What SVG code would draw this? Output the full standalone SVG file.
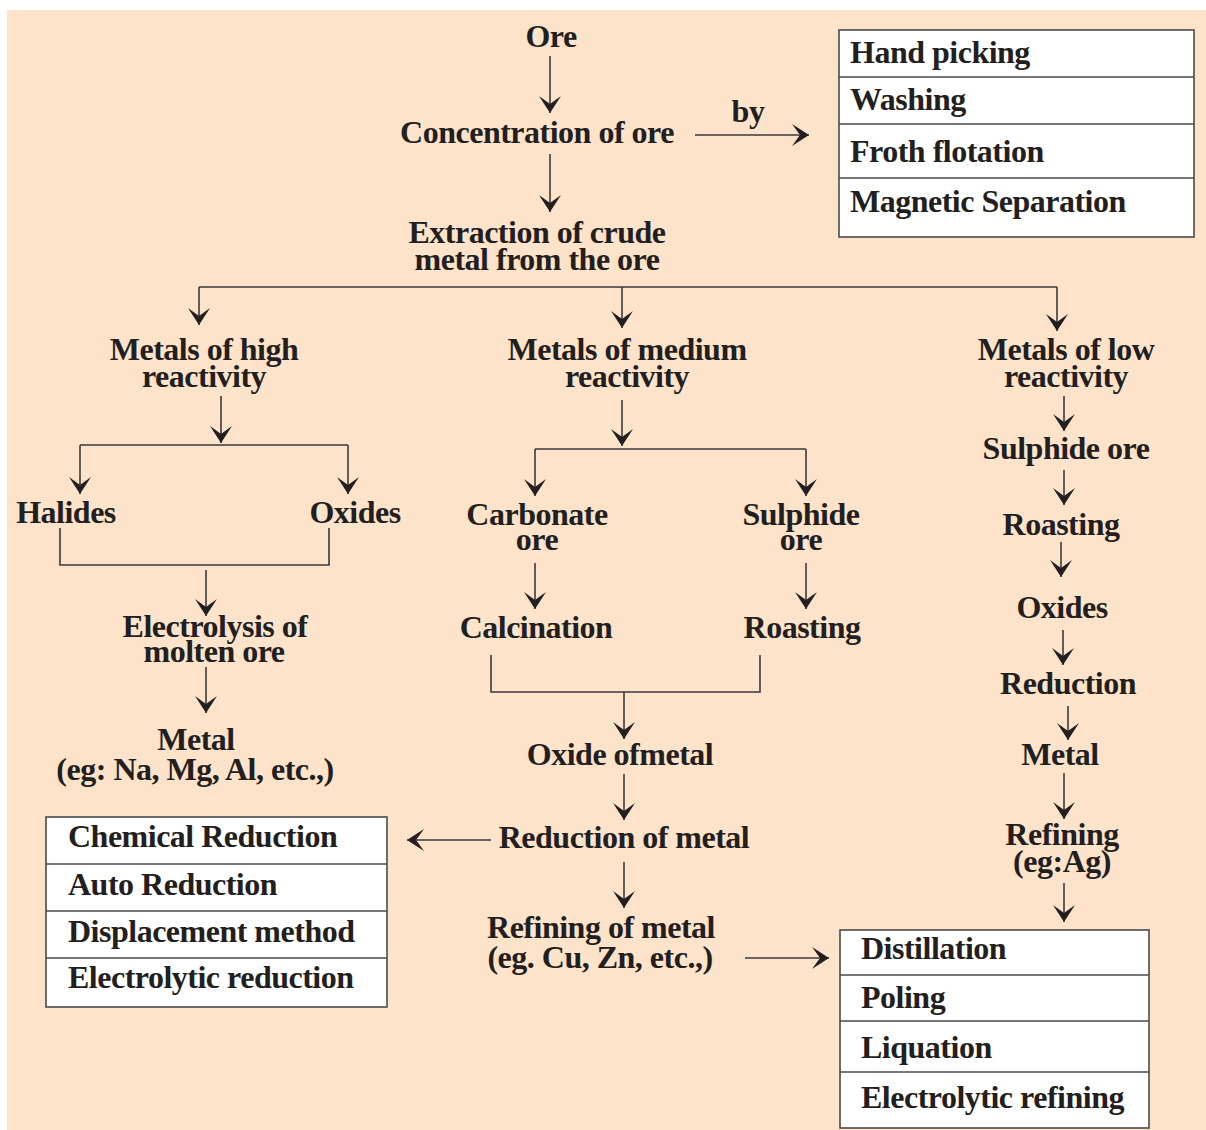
<svg xmlns="http://www.w3.org/2000/svg" width="1206" height="1130" viewBox="0 0 1206 1130">
<defs>
<style>
.t{font-family:"Liberation Serif","Times New Roman",serif;font-weight:bold;font-size:32px;fill:#231f20;letter-spacing:-0.5px}
.c{text-anchor:middle}
.ln{stroke:#3a3a3a;stroke-width:1.6;fill:none}
.ar{marker-end:url(#ah)}
.box{fill:#ffffff;stroke:#4a4a4a;stroke-width:1.6}
.div{stroke:#4a4a4a;stroke-width:1.6}
</style>
<marker id="ah" markerUnits="userSpaceOnUse" markerWidth="18" markerHeight="22" viewBox="0 0 18 22" refX="17" refY="11" orient="auto">
<path d="M17,11 L0,0 L8,11 L0,22 Z" fill="#231f20"/>
</marker>
</defs>
<rect x="0" y="0" width="1206" height="1130" fill="#ffffff"/>
<rect x="7" y="10" width="1199" height="1120" fill="#fde3c9"/>

<g id="connectors">
<line class="ln ar" x1="550" y1="56" x2="550" y2="113"/>
<line class="ln ar" x1="550" y1="154" x2="550" y2="212"/>
<line class="ln ar" x1="695" y1="135" x2="809" y2="135"/>
<polyline class="ln" points="199,287 1057,287"/>
<line class="ln ar" x1="199" y1="287" x2="199" y2="325"/>
<line class="ln ar" x1="622" y1="287" x2="622" y2="328"/>
<line class="ln ar" x1="1057" y1="287" x2="1057" y2="331"/>
<line class="ln ar" x1="221" y1="396" x2="221" y2="443"/>
<polyline class="ln" points="80,445 348,445"/>
<line class="ln ar" x1="80" y1="445" x2="80" y2="494"/>
<line class="ln ar" x1="348" y1="445" x2="348" y2="494"/>
<polyline class="ln" points="60,528 60,565 329,565 329,528"/>
<line class="ln ar" x1="206" y1="570" x2="206" y2="616"/>
<line class="ln ar" x1="206" y1="667" x2="206" y2="713"/>
<line class="ln ar" x1="622" y1="400" x2="622" y2="446"/>
<polyline class="ln" points="535,449 806,449"/>
<line class="ln ar" x1="535" y1="449" x2="535" y2="496"/>
<line class="ln ar" x1="806" y1="449" x2="806" y2="496"/>
<line class="ln ar" x1="535" y1="563" x2="535" y2="609"/>
<line class="ln ar" x1="806" y1="563" x2="806" y2="609"/>
<polyline class="ln" points="491,655 491,692 760,692 760,655"/>
<line class="ln ar" x1="624" y1="692" x2="624" y2="739"/>
<line class="ln ar" x1="624" y1="774" x2="624" y2="820"/>
<line class="ln ar" x1="491" y1="840" x2="407" y2="840"/>
<line class="ln ar" x1="624" y1="862" x2="624" y2="908"/>
<line class="ln ar" x1="745" y1="958" x2="829" y2="958"/>
<line class="ln ar" x1="1064" y1="396" x2="1064" y2="431"/>
<line class="ln ar" x1="1064" y1="470" x2="1064" y2="505"/>
<line class="ln ar" x1="1061" y1="542" x2="1061" y2="577"/>
<line class="ln ar" x1="1063" y1="630" x2="1063" y2="665"/>
<line class="ln ar" x1="1068" y1="706" x2="1068" y2="740"/>
<line class="ln ar" x1="1064" y1="773" x2="1064" y2="819"/>
<line class="ln ar" x1="1064" y1="883" x2="1064" y2="922"/>
</g>

<g id="ore"><text class="t c" x="551" y="47">Ore</text></g>
<g id="concentration"><text class="t c" x="537" y="143">Concentration of ore</text></g>
<g id="by"><text class="t c" x="748" y="122">by</text></g>
<g id="extraction"><text class="t c" x="537" y="243">Extraction of crude</text><text class="t c" x="537" y="270">metal from the ore</text></g>

<g id="concentration-methods">
<rect class="box" x="839" y="30" width="355" height="207"/>
<line class="div" x1="839" y1="77" x2="1194" y2="77"/>
<line class="div" x1="839" y1="124" x2="1194" y2="124"/>
<line class="div" x1="839" y1="178" x2="1194" y2="178"/>
<text class="t" x="850" y="63">Hand picking</text>
<text class="t" x="850" y="110">Washing</text>
<text class="t" x="850" y="162">Froth flotation</text>
<text class="t" x="850" y="212">Magnetic Separation</text>
</g>

<g id="high"><text class="t c" x="204" y="360">Metals of high</text><text class="t c" x="204" y="387">reactivity</text></g>
<g id="halides"><text class="t c" x="66" y="523">Halides</text></g>
<g id="oxides-high"><text class="t c" x="355" y="523">Oxides</text></g>
<g id="electrolysis"><text class="t c" x="215" y="637">Electrolysis of</text><text class="t c" x="214" y="662">molten ore</text></g>
<g id="metal-high"><text class="t c" x="196" y="750">Metal</text><text class="t c" x="195" y="780">(eg: Na, Mg, Al, etc.,)</text></g>

<g id="reduction-methods">
<rect class="box" x="46" y="817" width="341" height="190"/>
<line class="div" x1="46" y1="864" x2="387" y2="864"/>
<line class="div" x1="46" y1="911" x2="387" y2="911"/>
<line class="div" x1="46" y1="958" x2="387" y2="958"/>
<text class="t" x="68" y="847">Chemical Reduction</text>
<text class="t" x="68" y="895">Auto Reduction</text>
<text class="t" x="68" y="942">Displacement method</text>
<text class="t" x="68" y="988">Electrolytic reduction</text>
</g>

<g id="medium"><text class="t c" x="627" y="360">Metals of medium</text><text class="t c" x="627" y="387">reactivity</text></g>
<g id="carbonate"><text class="t c" x="537" y="525">Carbonate</text><text class="t c" x="537" y="550">ore</text></g>
<g id="sulphide-medium"><text class="t c" x="801" y="525">Sulphide</text><text class="t c" x="801" y="550">ore</text></g>
<g id="calcination"><text class="t c" x="536" y="638">Calcination</text></g>
<g id="roasting-medium"><text class="t c" x="802" y="638">Roasting</text></g>
<g id="oxide-of-metal"><text class="t c" x="620" y="765">Oxide ofmetal</text></g>
<g id="reduction-of-metal"><text class="t c" x="624" y="848">Reduction of metal</text></g>
<g id="refining-of-metal"><text class="t c" x="601" y="938">Refining of metal</text><text class="t c" x="600" y="968">(eg. Cu, Zn, etc.,)</text></g>

<g id="low"><text class="t c" x="1066" y="360">Metals of low</text><text class="t c" x="1066" y="387">reactivity</text></g>
<g id="sulphide-low"><text class="t c" x="1066" y="459">Sulphide ore</text></g>
<g id="roasting-low"><text class="t c" x="1061" y="535">Roasting</text></g>
<g id="oxides-low"><text class="t c" x="1062" y="618">Oxides</text></g>
<g id="reduction-low"><text class="t c" x="1068" y="694">Reduction</text></g>
<g id="metal-low"><text class="t c" x="1060" y="765">Metal</text></g>
<g id="refining-low"><text class="t c" x="1062" y="845">Refining</text><text class="t c" x="1062" y="872">(eg:Ag)</text></g>

<g id="refining-methods">
<rect class="box" x="840" y="930" width="309" height="198"/>
<line class="div" x1="840" y1="975" x2="1149" y2="975"/>
<line class="div" x1="840" y1="1021" x2="1149" y2="1021"/>
<line class="div" x1="840" y1="1072" x2="1149" y2="1072"/>
<text class="t" x="861" y="959">Distillation</text>
<text class="t" x="861" y="1008">Poling</text>
<text class="t" x="861" y="1058">Liquation</text>
<text class="t" x="861" y="1108">Electrolytic refining</text>
</g>
</svg>
